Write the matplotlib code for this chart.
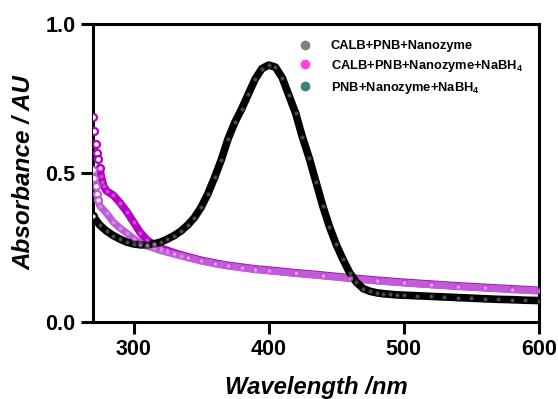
import matplotlib
matplotlib.use('Agg')
import matplotlib.pyplot as plt
from matplotlib.lines import Line2D

plt.rcParams['font.family'] = ['Liberation Sans', 'DejaVu Sans']

# CALB+PNB+Nanozyme
wl_black = [270, 275, 280, 285, 290, 295, 300, 305, 310, 315, 320, 325, 330,
            335, 340, 345, 350, 355, 360, 365, 370, 375, 380, 385, 390, 395,
            400, 405, 410, 415, 420, 425, 430, 435, 440, 445, 450, 455, 460,
            465, 470, 475, 480, 485, 490, 495, 500, 510, 520, 530, 540, 550,
            560, 570, 580, 590, 600]
abs_black = [0.356, 0.325, 0.305, 0.290, 0.278, 0.268, 0.262, 0.259, 0.259,
             0.262, 0.268, 0.278, 0.290, 0.305, 0.325, 0.350, 0.385, 0.430,
             0.485, 0.545, 0.615, 0.670, 0.715, 0.765, 0.815, 0.850, 0.862,
             0.855, 0.820, 0.760, 0.700, 0.620, 0.550, 0.470, 0.390, 0.320,
             0.260, 0.210, 0.165, 0.133, 0.112, 0.103, 0.098, 0.095, 0.093,
             0.091, 0.090, 0.088, 0.086, 0.084, 0.082, 0.080, 0.078, 0.076,
             0.075, 0.073, 0.072]

# CALB+PNB+Nanozyme+NaBH4
wl_mag = [270, 271, 272, 273, 274, 275, 276, 277, 278, 280, 285, 290, 295,
          300, 305, 310, 315, 320, 325, 330, 340, 350, 360, 370, 380, 390,
          400, 420, 440, 460, 480, 500, 520, 540, 560, 580, 600]
abs_mag = [0.688, 0.641, 0.597, 0.567, 0.547, 0.517, 0.490, 0.470, 0.455,
           0.440, 0.425, 0.400, 0.370, 0.335, 0.300, 0.275, 0.260, 0.248,
           0.240, 0.232, 0.219, 0.207, 0.198, 0.190, 0.184, 0.178, 0.174,
           0.165, 0.157, 0.148, 0.140, 0.133, 0.127, 0.121, 0.116, 0.111,
           0.106]

# PNB+Nanozyme+NaBH4
wl_pur = [270, 271, 272, 273, 274, 275, 280, 285, 290, 295, 300, 305, 310,
          315, 320, 325, 330, 335, 340, 350, 360, 370, 380, 390, 400, 420,
          440, 460, 480, 500, 520, 540, 560, 580, 600]
abs_pur = [0.510, 0.483, 0.456, 0.430, 0.410, 0.390, 0.365, 0.335, 0.315,
           0.298, 0.280, 0.265, 0.255, 0.248, 0.240, 0.234, 0.228, 0.222,
           0.216, 0.205, 0.196, 0.188, 0.182, 0.176, 0.172, 0.163, 0.155,
           0.146, 0.138, 0.131, 0.125, 0.119, 0.114, 0.109, 0.104]

legend_labels = ['CALB+PNB+Nanozyme',
                 'CALB+PNB+Nanozyme+NaBH$_\\mathregular{4}$',
                 'PNB+Nanozyme+NaBH$_\\mathregular{4}$']
legend_colors = ['#808080', '#ff44dd', '#3d7f80']

fig = plt.figure(figsize=(5.58, 3.99), dpi=100)
ax = fig.add_axes([0.1667, 0.193, 0.799, 0.747])


def draw(wl, ab, color, lw, skip=0):
    # first few scans are noisy, show them as loose open circles only
    ax.plot(wl[skip:], ab[skip:], color=color, lw=lw,
            solid_capstyle='round', zorder=2)
    ax.plot(wl[:skip + 1], ab[:skip + 1], 'o', ms=5, mfc='white', mec=color,
            mew=1.6, zorder=3)
    ax.plot(wl[skip:], ab[skip:], 'o', ms=3.2, mfc='white', mec=color,
            mew=1.5, alpha=0.35, zorder=3)


draw(wl_mag, abs_mag, '#b400c4', 5.6, skip=5)
draw(wl_pur, abs_pur, '#c05cd8', 5.2, skip=4)
draw(wl_black, abs_black, 'black', 5.5)

ax.set_xlim(270, 600)
ax.set_ylim(0, 1.0)
ax.set_xticks([300, 400, 500, 600])
ax.set_yticks([0.0, 0.5, 1.0])
ax.set_yticklabels(['0.0', '0.5', '1.0'])

for s in ax.spines.values():
    s.set_linewidth(2.2)
ax.tick_params(width=2.2, length=8.5, labelsize=15.5, direction='out', pad=4)
for t in ax.get_xticklabels() + ax.get_yticklabels():
    t.set_fontweight('bold')

ax.set_xlabel('Wavelength /nm', fontsize=17.2, fontweight='bold',
              fontstyle='italic', labelpad=11)
ax.set_ylabel('Absorbance / AU', fontsize=17.5, fontweight='bold',
              fontstyle='italic', labelpad=7)

handles = [Line2D([], [], ls='none', marker='o', ms=6, mfc=c, mec=c)
           for c in legend_colors]
leg = ax.legend(handles, legend_labels, loc='upper left',
                bbox_to_anchor=(0.42, 0.985), frameon=False,
                prop={'weight': 'bold', 'size': 9.3}, handletextpad=1.0,
                labelspacing=0.45)

fig.savefig('out.png', dpi=100)
